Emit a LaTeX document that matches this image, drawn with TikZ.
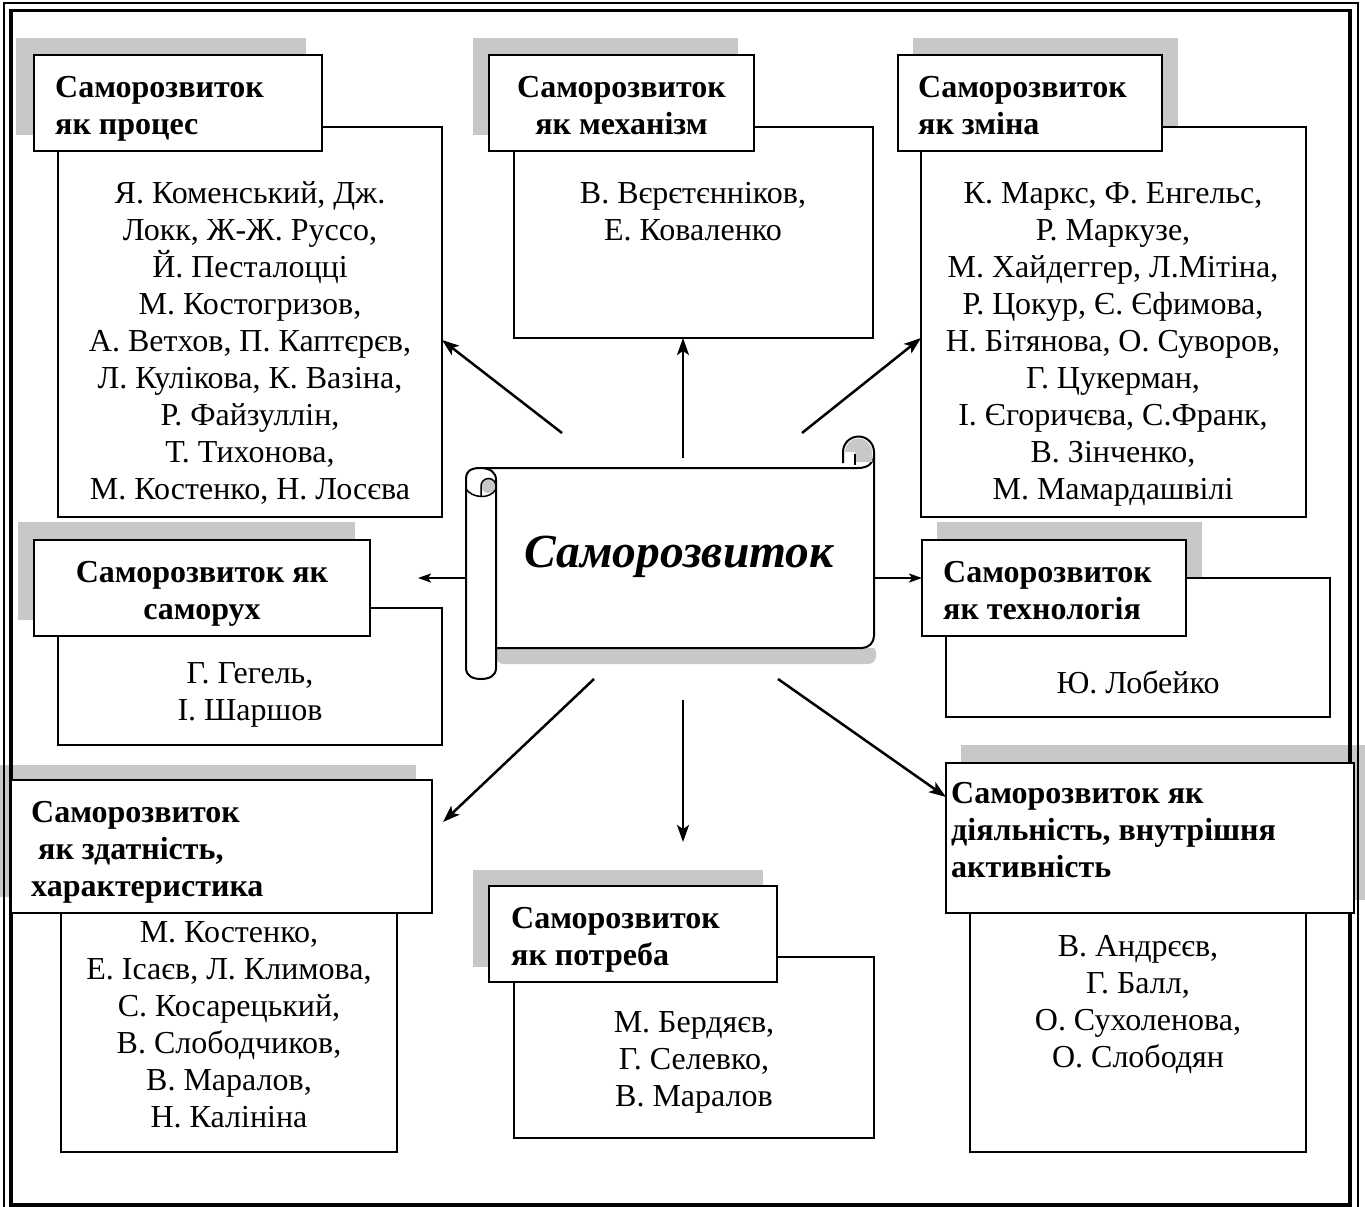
\documentclass[tikz,border=0pt]{standalone}
\usepackage{fontspec}
\setmainfont{Liberation Serif}
\usetikzlibrary{arrows.meta}
\definecolor{shgrey}{RGB}{200,200,200}
\begin{document}
\begin{tikzpicture}[x=1pt,y=-1pt,
  shadowbox/.style={fill=shgrey},
  contentbox/.style={draw, line width=2pt, fill=white, rectangle, inner sep=0pt, outer sep=0pt, anchor=north west},
  headbox/.style={draw, line width=2.4pt, fill=white, rectangle, inner sep=0pt, outer sep=0pt, anchor=north west},
  hdr/.style={font=\fontsize{32}{37}\selectfont\bfseries, align=left, inner sep=0pt, anchor=base west},
  hdrc/.style={font=\fontsize{32}{37}\selectfont\bfseries, align=center, inner sep=0pt, anchor=base},
  names/.style={font=\fontsize{32}{37}\selectfont, align=center, inner sep=0pt, anchor=base},
  arr/.style={line width=2.5pt, -{Stealth[length=17pt,width=12pt,inset=4pt]}},
  sarr/.style={line width=2.2pt, -{Stealth[length=13pt,width=9pt,inset=3pt]}},
  scroll/.style={line width=2pt, line join=round}
]
\useasboundingbox (0,0) rectangle (1365,1207);
\fill[white] (0,0) rectangle (1365,1207);

% shadows
\fill[shadowbox] (16,38) rectangle (306,135);
\fill[shadowbox] (473,38) rectangle (738,135);
\fill[shadowbox] (913,38) rectangle (1178,135);
\fill[shadowbox] (18,522) rectangle (355,620);
\fill[shadowbox] (937,522) rectangle (1202,620);
\fill[shadowbox] (0,765) rectangle (416,897);
\fill[shadowbox] (473,870) rectangle (763,967);
\fill[shadowbox] (961,745) rectangle (1365,900);

% frame
\draw[line width=2pt] (3.5,3.5) rectangle (1358,1215);
\draw[line width=3.5pt] (11,10.5) rectangle (1350,1205);

% content boxes
\node[contentbox, minimum width=384pt, minimum height=390pt] (c1) at (58,127) {};
\node[contentbox, minimum width=359pt, minimum height=211pt] (c2) at (514,127) {};
\node[contentbox, minimum width=385pt, minimum height=390pt] (c3) at (921,127) {};
\node[contentbox, minimum width=384pt, minimum height=137pt] (c4) at (58,608) {};
\node[contentbox, minimum width=384pt, minimum height=139pt] (c5) at (946,578) {};
\node[contentbox, minimum width=336pt, minimum height=252pt] (c6) at (61,900) {};
\node[contentbox, minimum width=360pt, minimum height=181pt] (c7) at (514,957) {};
\node[contentbox, minimum width=336pt, minimum height=252pt] (c8) at (970,900) {};

% header boxes
\node[headbox, minimum width=288pt, minimum height=96pt] (h1) at (34,55) {};
\node[headbox, minimum width=265pt, minimum height=96pt] (h2) at (489,55) {};
\node[headbox, minimum width=264pt, minimum height=96pt] (h3) at (898,55) {};
\node[headbox, minimum width=336pt, minimum height=96pt] (h4) at (34,540) {};
\node[headbox, minimum width=264pt, minimum height=96pt] (h5) at (922,540) {};
\node[headbox, minimum width=421pt, minimum height=133pt] (h6) at (11,780) {};
\node[headbox, minimum width=288pt, minimum height=96pt] (h7) at (489,886) {};
\node[headbox, minimum width=408pt, minimum height=150pt] (h8) at (946,763) {};

% header texts (anchor = baseline of last line)
\node[hdr] (ht1) at (55,134) {Саморозвиток\\як процес};
\node[hdrc] (ht2) at (621.5,134) {Саморозвиток\\як механізм};
\node[hdr] (ht3) at (918,134) {Саморозвиток\\як зміна};
\node[hdrc] (ht4) at (202,619) {Саморозвиток як\\саморух};
\node[hdr] (ht5) at (943,619) {Саморозвиток\\як технологія};
\node[hdr] (ht6) at (31,896) {Саморозвиток\\\hspace*{7pt}як здатність,\\характеристика};
\node[hdr] (ht7) at (511,965) {Саморозвиток\\як потреба};
\node[hdr] (ht8) at (951,877) {Саморозвиток як\\діяльність, внутрішня\\активність};

% names (anchor = baseline of last line)
\node[names] (n1) at (250,499) {Я. Коменський, Дж.\\Локк, Ж-Ж. Руссо,\\Й. Песталоцці\\М. Костогризов,\\А. Ветхов, П. Каптєрєв,\\Л. Кулікова, К. Вазіна,\\Р. Файзуллін,\\Т. Тихонова,\\М. Костенко, Н. Лосєва};
\node[names] (n2) at (693,240) {В. Вєрєтєнніков,\\Е. Коваленко};
\node[names] (n3) at (1113,499) {К. Маркс, Ф. Енгельс,\\Р. Маркузе,\\М. Хайдеггер, Л.Мітіна,\\Р. Цокур, Є. Єфимова,\\Н. Бітянова, О. Суворов,\\Г. Цукерман,\\І. Єгоричєва, С.Франк,\\В. Зінченко,\\М. Мамардашвілі};
\node[names] (n4) at (250,720) {Г. Гегель,\\І. Шаршов};
\node[names] (n5) at (1138,693) {Ю. Лобейко};
\node[names] (n6) at (229,1127) {М. Костенко,\\Е. Ісаєв, Л. Климова,\\С. Косарецький,\\В. Слободчиков,\\В. Маралов,\\Н. Калініна};
\node[names] (n7) at (694,1106) {М. Бердяєв,\\Г. Селевко,\\В. Маралов};
\node[names] (n8) at (1138,1067) {В. Андрєєв,\\Г. Балл,\\О. Сухоленова,\\О. Слободян};

% central scroll
\fill[shgrey, rounded corners=8pt] (496,645) rectangle (876,664);
\fill[white] (480,468) rectangle (874,648);
\draw[scroll] (480,468) -- (858,468) .. controls (868,468) and (874,463) .. (874,455);
\draw[scroll] (843,463) -- (843,452) arc[start angle=180, end angle=360, radius=15.5] [rounded corners=12pt] -- (874,648) -- (496,648);
\fill[shgrey] (845,452) arc[start angle=180, end angle=360, radius=13.5] -- (872.5,462) -- (855,462) -- (855,452) -- cycle;
\draw[line width=1.5pt] (855,454) -- (855,465);
\draw[scroll, fill=white] (496,480) -- (496,668) .. controls (496,676) and (489,679) .. (481,679) .. controls (473,679) and (466,676) .. (466,668) -- (466,478) .. controls (466,472) and (470,468) .. (480,468) .. controls (490,468) and (496,472) .. (496,480);
\fill[shgrey] (488.5,486) circle (7);
\draw[line width=1.5pt] (481,496) -- (481,486) arc[start angle=180, end angle=360, radius=7.5] -- (496,490);
\draw[line width=1.5pt] (466,489) .. controls (472,498) and (490,500) .. (496,489);
\node[font=\fontsize{47.5}{50}\selectfont\bfseries\itshape, inner sep=0pt, anchor=base] (title) at (679,567) {Саморозвиток};

% arrow end points
\coordinate (s1) at (562,433);  \coordinate (e1) at (443,340);
\coordinate (s2) at (683,458);  \coordinate (e2) at (683,338);
\coordinate (s3) at (802,433);  \coordinate (e3) at (921,338);
\coordinate (s4) at (465,578);  \coordinate (e4) at (418,578);
\coordinate (s5) at (874,578);  \coordinate (e5) at (922,578);
\coordinate (s6) at (594,679);  \coordinate (e6) at (443,822);
\coordinate (s7) at (683,700);  \coordinate (e7) at (683,842);
\coordinate (s8) at (778,679);  \coordinate (e8) at (946,797);

\draw[arr] (s1) -- (c1.east |- e1);
\draw[arr] (s2) -- (c2.south -| e2);
\draw[arr] (s3) -- (c3.west |- e3);
\draw[sarr] (s4) -- (e4);
\draw[sarr] (s5) -- (h5.west |- e5);
\draw[arr] (s6) -- (e6);
\draw[arr] (s7) -- (e7);
\draw[arr] (s8) -- (h8.west |- e8);
\end{tikzpicture}
\end{document}
